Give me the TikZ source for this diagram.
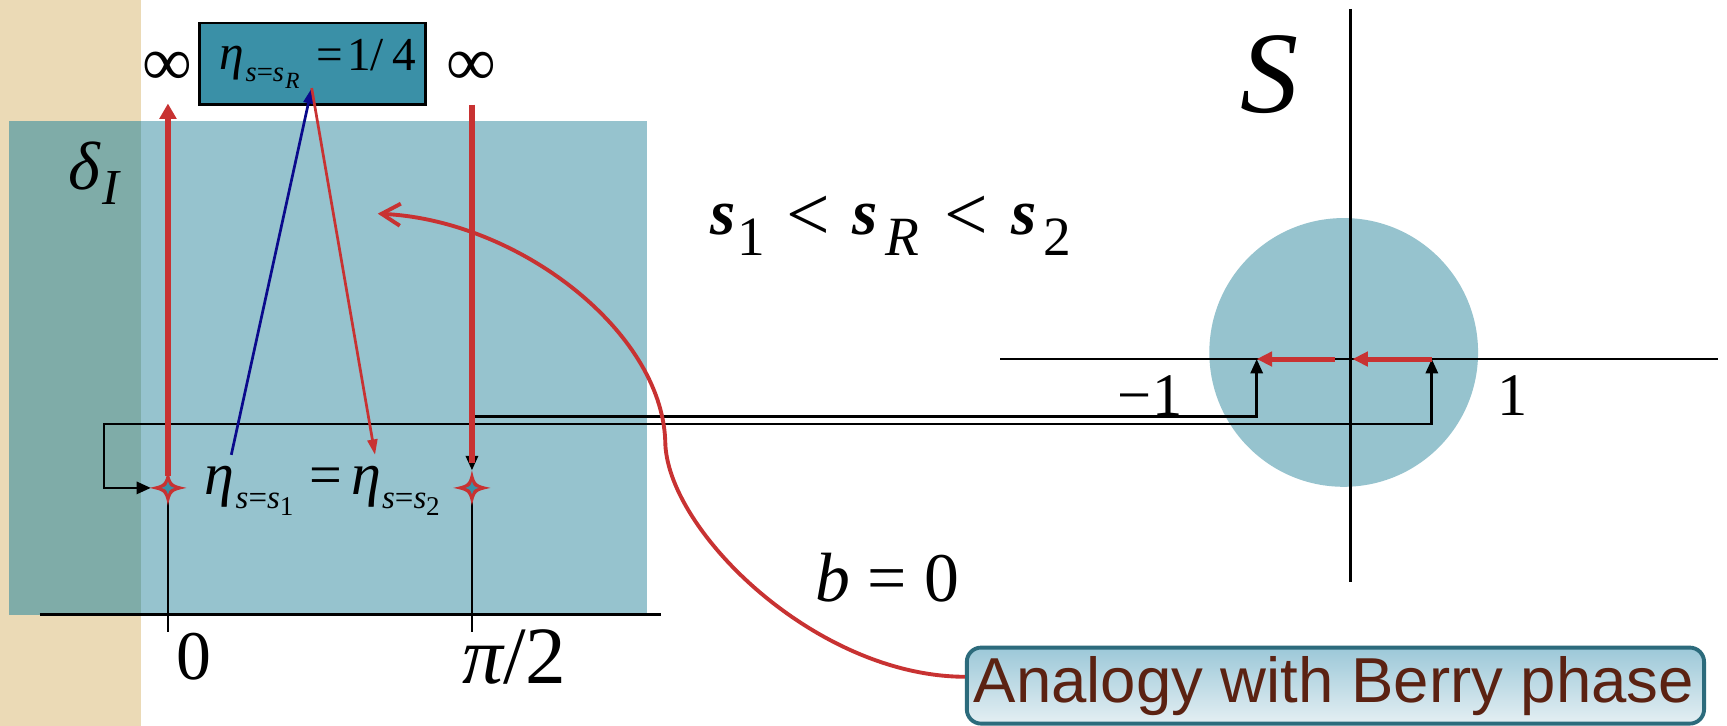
\documentclass[tikz,border=0pt]{standalone}
\usepackage{fontspec}
\setmainfont{Liberation Serif}
\newfontfamily\sansf{Liberation Sans}
\usetikzlibrary{arrows.meta}
\definecolor{beige}{HTML}{EBDAB6}
\definecolor{teallight}{HTML}{96C3CE}
\definecolor{tealdark}{HTML}{7FACA8}
\definecolor{boxteal}{HTML}{3A90A7}
\definecolor{myred}{HTML}{C83232}
\definecolor{myblue}{HTML}{0A0A8C}
\definecolor{berryb}{HTML}{2C6B7C}
\definecolor{berrytop}{HTML}{9CC8D8}
\definecolor{berrybot}{HTML}{E4EFF3}
\definecolor{berrytxt}{HTML}{5B2212}
\newcommand{\fsz}[1]{\fontsize{#1}{#1}\selectfont}
\tikzset{
  txt/.style={anchor=base west, inner sep=0pt, outer sep=0pt},
  blk/.style={draw=black, line width=0.7pt},
  redthick/.style={draw=myred, line width=1.4pt},
  redthin/.style={draw=myred, line width=0.7pt},
  bluethin/.style={draw=myblue, line width=0.7pt},
  redcurve/.style={draw=myred, line width=1pt},
  blktip/.tip={Triangle[length=0.13cm,width=0.11cm]},
  redtip/.tip={Triangle[length=0.14cm,width=0.15cm]},
  thintip/.tip={Triangle[length=0.14cm,width=0.09cm]},
}
\begin{document}
\begin{tikzpicture}[x=0.01cm,y=-0.01cm]
\useasboundingbox (0,0) rectangle (1568,659);
% backgrounds
\fill[white] (0,0) rectangle (1568,659);
\fill[beige] (0,0) rectangle (128,659);
\fill[teallight] (128,110) rectangle (587,558);
\fill[tealdark] (8,110) rectangle (128,558);
\fill[teallight] (1220,320) circle[radius=122];
% right axes
\coordinate (hL) at (908,326); \coordinate (hR) at (1560,326);
\coordinate (vT) at (1226,8); \coordinate (vB) at (1226,528);
\draw[line width=0.75pt] (hL) -- (hR);
\draw[line width=0.75pt] (vT) -- (vB);
\coordinate (mOne) at (1141,326); \coordinate (pOne) at (1300,326);
\coordinate (stA) at (152.5,443); \coordinate (stB) at (428.5,443);
% left axis and ticks
\coordinate (axL) at (36,558); \coordinate (axR) at (600,558);
\draw[blk] (axL) -- (axR);
\draw[blk] (stA) -- (152.5,574);
\draw[blk] (stB) -- (428.5,574);
% black connectors
\coordinate (stBtop) at (428.5,427); \coordinate (stAleft) at (137,443);
\draw[blk, {blktip}-{blktip}] (mOne) -- (1141,378) -| (stBtop);
\draw[blk, {blktip}-{blktip}] (pOne) -- (1300,385) -- (94.5,385) |- (stAleft);
% red thick verticals
\coordinate (infLb) at (152.5,94); \coordinate (infRb) at (428.5,95);
\draw[redthick, -{redtip}] (152.5,432) -- (infLb);
\draw[redthick] (infRb) -- (428.5,420);
% red arrows on S axis
\draw[myred, line width=1.3pt, -{Triangle[length=0.14cm,width=0.13cm]}] (pOne) -- (1228,326);
\draw[myred, line width=1.3pt, -{Triangle[length=0.14cm,width=0.13cm]}] (1212,326) -- (mOne);
% top box
\node[draw=black, line width=0.7pt, fill=boxteal, minimum width=2.05cm, minimum height=0.74cm, inner sep=0pt] (topbox) at (283.5,58) {};
\coordinate (boxtip) at (283,80);
\coordinate (blueStart) at (210,413);
\coordinate (redEnd) at (340.5,413);
\draw[bluethin, -{thintip}] (blueStart) -- (boxtip);
\draw[redthin, -{thintip}] (boxtip) -- (redEnd);
% stars
\foreach \c in {stA,stB}{
  \begin{scope}[shift={(\c)}]
  \fill[myred] (17,0) .. controls (3,3) .. (0,16) .. controls (-3,3) .. (-17,0) .. controls (-3,-3) .. (0,-16) .. controls (3,-3) .. cycle;
  \fill[boxteal] (6,0) .. controls (1.5,1.5) .. (0,6) .. controls (-1.5,1.5) .. (-6,0) .. controls (-1.5,-1.5) .. (0,-6) .. controls (1.5,-1.5) .. cycle;
  \end{scope}
}
% Berry box
\node[draw=berryb, line width=1pt, rounded corners=0.13cm, top color=berrytop, bottom color=berrybot, minimum width=6.69cm, minimum height=0.69cm, inner sep=0pt] (berry) at (1212.5,622.5) {};
\node[anchor=base, inner sep=0pt] (berrytext) at (1211,638) {\sansf\fsz{16.4pt}\color{berrytxt}Analogy with Berry phase};
% curved arrow
\coordinate (curveTip) at (343,194);
\draw[redcurve, -{Straight Barb[length=0.17cm,width=0.2cm]}] ([yshift=0.08cm]berry.west) .. controls (740,614) and (604,480) .. (604,400) .. controls (600,300) and (470,200) .. (curveTip);
% texts
\node[anchor=base, inner sep=0pt] (infL) at (152,78) {\fsz{18pt}∞};
\node[anchor=base, inner sep=0pt] (infR) at (428,78) {\fsz{18pt}∞};
\node[txt] (etaR) at (199,63) {\fsz{12.8pt}\itshape η};
\node[txt] (etaRsub) at (223,74) {\fsz{7.4pt}\itshape s\upshape=\itshape s};
\node[txt] (etaRsubR) at (259,80) {\fsz{6pt}\itshape R};
\node[txt] (quarter) at (287.5,64) {\fsz{12.2pt}=\hspace{0.036cm}1/\hspace{0.08cm}4};
\node[txt] (deltaI) at (62,172) {\fsz{17.6pt}\itshape δ};
\node[txt] (deltaIsub) at (93,186) {\fsz{13pt}\itshape I};
\node[txt] (etaA) at (186,449) {\fsz{15.5pt}\itshape η};
\node[txt] (etaAsub) at (214,462) {\fsz{8.5pt}\itshape s\upshape=\itshape s};
\node[txt] (etaAsub1) at (254,468) {\fsz{7pt}1};
\node[txt] (etaEq) at (281,449) {\fsz{15pt}=};
\node[txt] (etaB) at (319,449) {\fsz{15.5pt}\itshape η};
\node[txt] (etaBsub) at (347,462) {\fsz{8.5pt}\itshape s\upshape=\itshape s};
\node[txt] (etaBsub2) at (387,468) {\fsz{7pt}2};
\node[txt] (zero) at (160,617) {\fsz{18pt}0};
\node[txt] (pihalf) at (420,621) {\fsz{21pt}\itshape π\upshape/2};
\node[txt] (Slabel) at (1126,102) {\fsz{30pt}\itshape S};
\node[txt] (s1) at (645,213) {\fsz{16.7pt}\bfseries\itshape s};
\node[txt] (s1sub) at (670,232) {\fsz{14.3pt}1};
\node[anchor=center, inner sep=0pt] (lt1) at (733.5,198.5) {\fsz{20pt}<};
\node[txt] (sR) at (774,213) {\fsz{16.7pt}\bfseries\itshape s};
\node[txt] (sRsub) at (804,232) {\fsz{14.3pt}\itshape R};
\node[anchor=center, inner sep=0pt] (lt2) at (877.5,198.5) {\fsz{20pt}<};
\node[txt] (s2) at (918,213) {\fsz{16.7pt}\bfseries\itshape s};
\node[txt] (s2sub) at (947,232) {\fsz{14.3pt}2};
\node[txt] (beq) at (740,546) {\fsz{18pt}\itshape b\upshape\ = 0};
\node[txt] (mlabel) at (1015,377) {\fsz{15.6pt}−1};
\node[txt] (plabel) at (1360,377) {\fsz{15.6pt}1};
\end{tikzpicture}
\end{document}
